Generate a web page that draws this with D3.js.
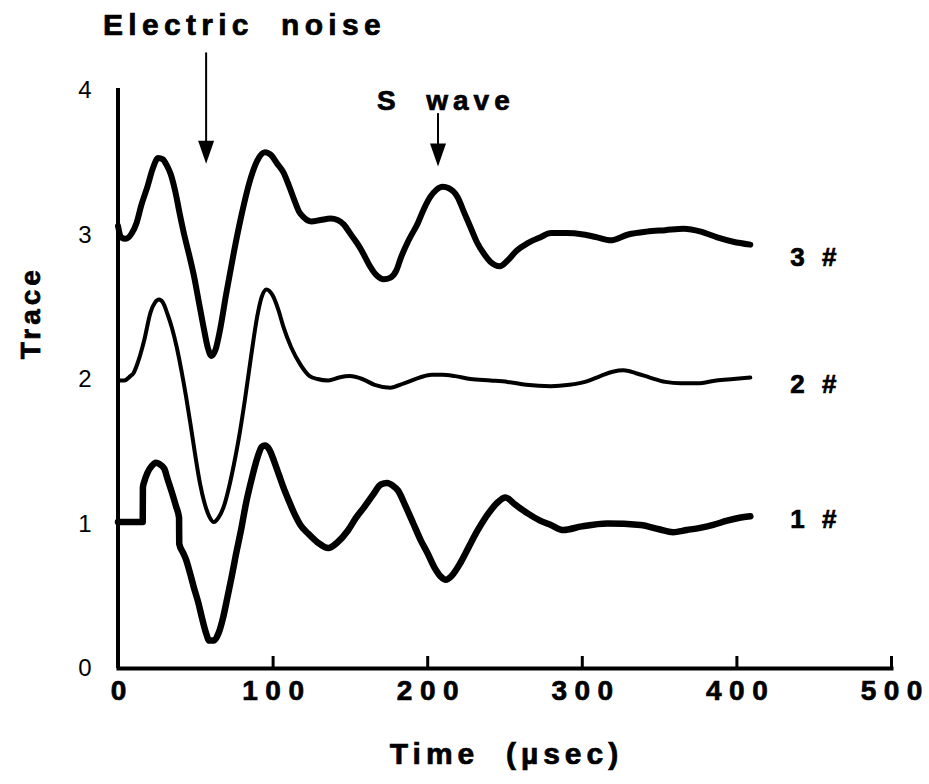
<!DOCTYPE html>
<html>
<head>
<meta charset="utf-8">
<script src="https://cdn.jsdelivr.net/npm/d3@7"></script>
<style>
  body { margin: 0; background: #fff; }
  text { font-family: "Liberation Sans", Arial, Helvetica, sans-serif; fill: #000; }
</style>
</head>
<body>
<svg id="chart" width="929" height="784"></svg>
<script>
// Axis ticks
const xTicks = [0, 100, 200, 300, 400, 500];
const yTicks = [0, 1, 2, 3, 4];

// Trace labels, bottom to top
const traceNames = ["1 #", "2 #", "3 #"];

// Waveforms: [time (µsec), trace value]
const trace1 = [
  [0,1.01],[16,1.01],[16.1,1.25],[17,1.29],[19,1.35],[22,1.40],[24.5,1.42],[27,1.41],[29.9,1.38],
  [32,1.31],[35,1.21],[37.5,1.12],[39.5,1.04],[39.6,0.86],[42,0.80],[44,0.75],[46.5,0.66],[49,0.56],
  [52,0.45],[54.7,0.33],[57,0.24],[59,0.19],[62,0.19],[65,0.24],[68,0.35],[70.8,0.49],[73.5,0.63],
  [76,0.77],[79.5,0.95],[83,1.15],[86.5,1.31],[90,1.45],[93,1.53],[95,1.54],[98,1.51],[101,1.43],
  [104,1.34],[107,1.25],[110,1.17],[114,1.07],[118,0.99],[123,0.93],[129,0.87],[136,0.83],[142,0.87],
  [148.6,0.95],[154,1.04],[159,1.11],[165,1.20],[170,1.27],[174,1.28],[178,1.26],[181,1.23],[186,1.12],
  [191,1.00],[196,0.88],[200,0.80],[205,0.69],[209,0.63],[212,0.61],[216,0.64],[221.6,0.73],[227,0.84],
  [232.5,0.95],[237,1.03],[241,1.09],[246,1.15],[250.6,1.18],[257,1.13],[265,1.07],[273,1.02],[280,0.99],
  [288,0.955],[300,0.98],[316.5,1.00],[338,0.99],[350,0.96],[359,0.94],[368,0.955],[376.6,0.97],
  [385,0.99],[394,1.02],[402,1.04],[409,1.05]
];
const trace2 = [
  [0,1.99],[4,1.99],[8,2.02],[10,2.04],[13,2.12],[17,2.27],[21,2.46],[24,2.53],[26.5,2.55],[29,2.53],
  [32,2.45],[35,2.35],[38,2.22],[41,2.06],[44,1.88],[47,1.68],[50,1.47],[53,1.28],[56,1.14],[59,1.05],
  [62,1.01],[65,1.04],[68.5,1.12],[72,1.26],[75,1.41],[78,1.58],[82,1.85],[86,2.15],[90,2.43],[93,2.57],
  [96,2.62],[100,2.58],[104,2.47],[107,2.36],[112,2.22],[118,2.10],[124,2.02],[129,2.00],[136,1.99],
  [143,2.01],[150,2.02],[158,2.00],[166,1.96],[176,1.94],[185,1.97],[195,2.01],[203,2.03],[210,2.03],
  [218,2.02],[228,2.00],[241,1.99],[252,1.98],[264,1.96],[280,1.95],[292,1.96],[302,1.98],[312,2.02],
  [320,2.05],[327,2.06],[335,2.04],[344,2.01],[354,1.98],[364,1.97],[375,1.97],[387,1.99],[398,2.00],
  [409,2.01]
];
const trace3 = [
  [0,3.06],[2,2.98],[5,2.97],[9,3.01],[12,3.08],[15,3.20],[19,3.33],[22.6,3.46],[26,3.53],[29,3.52],
  [31.5,3.48],[34,3.42],[37,3.30],[40,3.14],[43,2.99],[46,2.86],[49,2.72],[52,2.55],[55.5,2.35],[58,2.22],
  [60.5,2.16],[63,2.20],[66,2.34],[70,2.59],[75,2.88],[80,3.14],[85,3.36],[90,3.51],[95,3.57],[99,3.55],
  [103,3.49],[107,3.43],[110.5,3.34],[114,3.24],[117,3.16],[120,3.12],[125,3.09],[131,3.10],[137.6,3.11],
  [142,3.10],[146,3.07],[150,3.01],[154,2.95],[157,2.90],[160,2.84],[163,2.78],[167,2.72],[172,2.69],
  [176,2.70],[180,2.75],[183,2.84],[188,2.96],[194,3.08],[198,3.18],[202,3.26],[206,3.31],[210,3.33],
  [214,3.32],[219.6,3.26],[224,3.15],[228,3.05],[232,2.95],[236.5,2.87],[241,2.81],[247,2.78],[252,2.82],
  [258,2.89],[265,2.94],[273,2.98],[280,3.01],[290,3.01],[301,3.00],[310,2.98],[318.5,2.96],[330,3.00],
  [342,3.02],[354,3.03],[366,3.04],[377,3.02],[387.6,2.98],[398,2.95],[409,2.93]
];

// Arrow annotations: text, arrow time, arrow tip value, arrow tail value, text baseline value
const noteTexts = ["Electric  noise", "S  wave"];
const noteTimes = [57, 207];
const noteTips = [3.49, 3.47];
const noteTails = [4.26, 3.84];
const noteTextValues = [4.38, 3.86];

const svg = d3.select("#chart");

const x = d3.scaleLinear().domain([0, 500]).range([118, 891]);
const y = d3.scaleLinear().domain([0, 4]).range([668, 90]);

// Heavy bold text helper
function heavy(sel, size, spacing) {
  return sel.attr("font-size", size).attr("font-weight", "bold")
    .attr("letter-spacing", spacing)
    .attr("stroke", "#000").attr("stroke-width", 0.7);
}

// X axis with inward ticks
const xAxis = d3.axisBottom(x)
  .tickValues(xTicks)
  .tickSizeInner(-12)
  .tickSizeOuter(0)
  .tickPadding(12)
  .tickFormat(d3.format("d"));

const gx = svg.append("g").attr("transform", `translate(0,${y(0)})`).call(xAxis);
gx.select(".domain").attr("stroke", "#000").attr("stroke-width", 4).attr("stroke-linecap", "square");
gx.selectAll(".tick line").attr("stroke", "#000").attr("stroke-width", 3)
  .filter(d => d === 0).remove();
heavy(gx.selectAll(".tick text"), 28, 7.5).attr("dx", 3.75).attr("fill", "#000");

// Y axis, no tick marks
const yAxis = d3.axisLeft(y)
  .tickValues(yTicks)
  .tickSize(0)
  .tickPadding(26)
  .tickFormat(d3.format("d"));

const gy = svg.append("g").attr("transform", `translate(${x(0)},0)`).call(yAxis);
gy.select(".domain").attr("stroke", "#000").attr("stroke-width", 4)
  .attr("d", `M0,${y(4) - 2}V${y(0)}`);
gy.selectAll(".tick text")
  .attr("font-size", 24).attr("font-weight", "normal")
  .attr("text-anchor", "middle").attr("x", -33)
  .attr("fill", "#000");

// Axis titles
heavy(svg.append("text"), 30, 5)
  .attr("x", (x(0) + x(500)) / 2 + 2)
  .attr("y", 764)
  .attr("text-anchor", "middle")
  .attr("xml:space", "preserve")
  .text("Time  (\u00B5sec)");

heavy(svg.append("text"), 28, 4)
  .attr("transform", `translate(40,${(y(2) + y(3)) / 2 + 6}) rotate(-90)`)
  .attr("text-anchor", "middle")
  .text("Trace");

// Waveforms
const line = d3.line()
  .x(d => x(d[0]))
  .y(d => y(d[1]))
  .curve(d3.curveMonotoneX);

const traces = [trace1, trace2, trace3];
const widths = [6.5, 4, 6];
svg.append("g").selectAll("path")
  .data(traces)
  .join("path")
  .attr("d", line)
  .attr("fill", "none")
  .attr("stroke", "#000")
  .attr("stroke-width", (d, i) => widths[i])
  .attr("stroke-linejoin", "round")
  .attr("stroke-linecap", "round");

// Trace labels beside the ends of the waveforms
const labelOffsets = [3, 6, 12];
heavy(svg.append("g").selectAll("text").data(traceNames).join("text"), 26, 5)
  .attr("x", (d, i) => x(traces[i][traces[i].length - 1][0]) + 40)
  .attr("y", (d, i) => y(traces[i][traces[i].length - 1][1]) + labelOffsets[i])
  .attr("dominant-baseline", "central")
  .text(d => d);

// Arrow annotations
const notes = svg.append("g");
noteTexts.forEach((t, i) => {
  const ax = x(noteTimes[i]);
  const tip = y(noteTips[i]);
  const tail = y(noteTails[i]);
  notes.append("line")
    .attr("x1", ax).attr("x2", ax)
    .attr("y1", tail).attr("y2", tip - 12)
    .attr("stroke", "#000").attr("stroke-width", 2);
  notes.append("path")
    .attr("d", `M${ax - 8},${tip - 23}L${ax + 8},${tip - 23}L${ax},${tip}Z`)
    .attr("fill", "#000");
});

heavy(notes.append("text"), 30, 5.3)
  .attr("x", 103).attr("y", y(noteTextValues[0]))
  .attr("xml:space", "preserve")
  .text(noteTexts[0]);

heavy(notes.append("text"), 28, 5)
  .attr("x", 377).attr("y", y(noteTextValues[1]))
  .attr("xml:space", "preserve")
  .text(noteTexts[1]);
</script>
</body>
</html>
